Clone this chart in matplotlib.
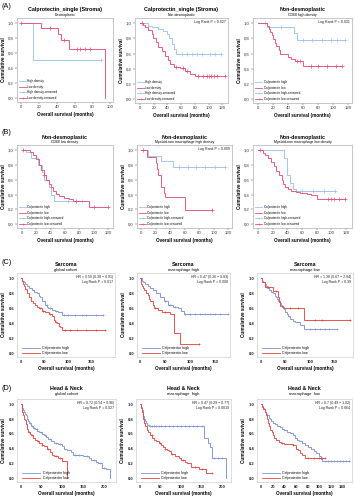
import numpy as np
import matplotlib
matplotlib.use('Agg')
import matplotlib.pyplot as plt
from matplotlib.lines import Line2D
from matplotlib.ticker import FuncFormatter

plt.rcParams['font.family'] = ['Liberation Sans', 'DejaVu Sans']

# ---------------- DATA ----------------
# Panel A1: Desmoplastic
a1_hi_t = [0, 13, 89]; a1_hi_s = [1, 0.51, 0.51]; a1_hi_c = [89]
a1_lo_t = [0, 22, 41, 44, 53, 94]; a1_lo_s = [1, 0.93, 0.85, 0.77, 0.66, 0.0]
a1_lo_c = [0, 32, 48, 62, 66, 71, 77]
# Panel A2: Non-desmoplastic
a2_hi_t = [0, 12, 17, 27, 34, 39, 43, 46, 49, 52, 118]
a2_hi_s = [1, .97, .95, .93, .9, .86, .8, .73, .66, .6, .6]
a2_hi_c = [61, 68, 76, 83, 90, 102, 109, 118]
a2_lo_t = [0, 5, 7, 12, 17, 19, 24, 27, 32, 36, 41, 44, 49, 58, 66, 73, 80, 124]
a2_lo_s = [1, .98, .95, .91, .86, .81, .75, .69, .63, .57, .52, .47, .43, .41, .37, .33, .30, .30]
a2_lo_c = [3, 52, 62, 69, 85, 92, 97, 100, 103, 108, 112, 124]
# Panel A3: CD68 high density
a3_hi_t = [0, 11, 47, 51, 116]; a3_hi_s = [1, .95, .87, .78, .78]
a3_hi_c = [9, 30, 60, 72, 85, 97, 105, 116]
a3_lo_t = [0, 12, 14, 16, 18, 20, 22, 24, 27, 29, 31, 40, 44, 49, 60, 111]
a3_lo_s = [1, .96, .93, .89, .84, .79, .74, .7, .65, .6, .59, .56, .53, .51, .44, .44]
a3_lo_c = [52, 55, 70, 80, 92, 104, 111]
# Panel B1: CD68 low density
b1_hi_t = [0, 5, 12, 23, 28, 31, 38, 41, 45, 84]
b1_hi_s = [1, .97, .9, .8, .7, .6, .5, .4, .31, .31]
b1_hi_c = [64, 84]
b1_lo_t = [0, 11, 15, 20, 24, 27, 30, 34, 37, 40, 43, 47, 52, 59, 66, 71, 94, 120]
b1_lo_s = [1, .97, .93, .88, .8, .73, .67, .6, .55, .5, .45, .41, .38, .36, .34, .32, .24, .24]
b1_lo_c = [2, 30, 75, 100, 120]
# Panel B2: Myeloid-non macrophage high density
b2_hi_t = [0, 10, 28, 44, 116]; b2_hi_s = [1, .92, .85, .77, .77]
b2_hi_c = [52, 65, 76, 88, 102, 116]
b2_lo_t = [0, 8, 20, 22, 24, 27, 28, 31, 33, 60, 97]
b2_lo_s = [1, .91, .83, .75, .66, .58, .5, .42, .37, .19, .19]
b2_lo_c = [3, 97]
# Panel B3: Myeloid-non macrophage low density
b3_hi_t = [0, 35, 40, 43, 47, 52, 105]; b3_hi_s = [1, .89, .67, .56, .47, .45, .45]
b3_hi_c = [60, 75, 90, 105]
b3_lo_t = [0, 7, 10, 14, 18, 22, 25, 28, 32, 34, 37, 41, 45, 52, 57, 66, 72, 80, 118]
b3_lo_s = [1, .96, .93, .89, .84, .78, .72, .67, .6, .55, .5, .47, .45, .43, .42, .41, .40, .34, .34]
b3_lo_c = [3, 95, 100, 103, 110, 118]
# Panel C1: Sarcoma global cohort
c1_hi_t = [0, 3, 6, 10, 13, 18, 23, 28, 34, 38, 41, 46, 52, 56, 59, 66, 72, 80, 87, 176]
c1_hi_s = [1, .97, .95, .92, .9, .87, .85, .82, .8, .77, .75, .7, .65, .62, .6, .58, .57, .55, .51, .51]
c1_hi_c = [55, 62, 75, 92, 100, 115, 130, 140, 160, 176]
c1_lo_t = [0, 2, 4, 6, 9, 13, 17, 21, 26, 30, 34, 38, 45, 52, 60, 66, 70, 74, 77, 81, 84, 87, 180]
c1_lo_s = [1, .96, .93, .9, .86, .8, .75, .7, .67, .65, .62, .6, .57, .55, .52, .5, .45, .42, .4, .37, .35, .31, .31]
c1_lo_c = [40, 48, 63, 75, 95, 105, 120, 140, 160, 180]
# Panel C2: Sarcoma macrophage high
c2_hi_t = [0, 3, 6, 10, 15, 20, 25, 32, 40, 48, 55, 65, 75, 82, 88, 175]
c2_hi_s = [1, .97, .95, .92, .9, .87, .85, .8, .75, .7, .65, .62, .6, .57, .53, .53]
c2_hi_c = [50, 60, 70, 90, 100, 110, 120, 130, 140, 150, 160, 175]
c2_lo_t = [0, 2, 4, 6, 8, 12, 15, 18, 20, 25, 28, 35, 43, 60, 67, 80, 117]
c2_lo_s = [1, .93, .9, .87, .85, .8, .78, .73, .7, .65, .6, .58, .55, .53, .27, .12, .12]
c2_lo_c = [30, 50, 117]
# Panel C3: Sarcoma macrophage low
c3_hi_t = [0, 2, 5, 8, 10, 13, 16, 20, 25, 28, 30, 33, 35, 38, 40, 43, 47, 50, 53, 56, 60, 65, 70, 80, 88, 155]
c3_hi_s = [1, .97, .95, .92, .9, .87, .85, .82, .8, .77, .75, .72, .7, .67, .65, .62, .59, .55, .52, .5, .46, .43, .42, .38, .33, .33]
c3_hi_c = [100, 110, 120, 130, 140, 155]
c3_lo_t = [0, 3, 8, 25, 35, 37, 38, 45, 87, 182]
c3_lo_s = [1, .95, .88, .83, .75, .68, .63, .6, .44, .44]
c3_lo_c = [15, 30, 60, 75, 110, 125, 182]
# Panel D1: Head & Neck global cohort
d1_hi_t = [0, 2, 4, 6, 8, 10, 12, 15, 18, 20, 25, 30, 35, 40, 45, 50, 55, 60, 65, 72, 80, 90, 100, 105,
           110, 120, 125, 150, 165, 170, 180, 185, 195, 205, 215]
d1_hi_s = [1, .97, .95, .92, .9, .87, .85, .8, .77, .75, .7, .68, .66, .64, .62, .6, .58, .56, .53, .5,
           .48, .46, .43, .4, .38, .35, .32, .3, .28, .25, .22, .2, .14, .12, 0]
d1_hi_c = [22, 28, 33, 38, 48, 58, 70, 85, 95, 130, 140, 160, 175, 190, 200]
d1_lo_t = [0, 2, 3, 4, 6, 8, 10, 12, 14, 16, 18, 22, 25, 30, 35, 40, 45, 50, 55, 62, 70, 75, 80, 90, 100, 110]
d1_lo_s = [1, .96, .93, .9, .85, .8, .78, .73, .7, .66, .63, .6, .58, .55, .52, .5, .47, .45, .43, .4,
           .35, .32, .3, .27, .24, 0]
d1_lo_c = [20, 28, 42, 52, 65, 85, 95]
# Panel D2: Head & Neck macrophage high
d2_hi_t = [0, 2, 4, 6, 8, 10, 12, 15, 18, 22, 155, 165, 170, 175, 210]
d2_hi_s = [1, .96, .92, .88, .84, .8, .77, .75, .72, .7, .55, .48, .42, .28, 0]
d2_hi_c = [25, 30, 35, 40, 45, 50, 60, 70, 80, 90, 100, 110, 120, 130, 140, 150, 180, 190, 200]
d2_lo_t = [0, 2, 4, 6, 8, 10, 13, 16, 20, 25, 30, 35, 40, 45, 50, 55, 60, 65, 70, 75, 85, 95, 100,
           110, 115, 125, 145, 160, 175]
d2_lo_s = [1, .95, .9, .85, .8, .75, .7, .65, .62, .58, .55, .52, .5, .47, .45, .42, .4, .38, .37, .33,
           .3, .28, .25, .22, .2, .15, .12, .07, .07]
d2_lo_c = [28, 48, 62, 78, 105, 135, 150, 175]
# Panel D3: Head & Neck macrophage low
d3_hi_t = [0, 1, 3, 5, 7, 9, 11, 13, 15, 17, 20, 24, 28, 32, 36, 40, 45, 50, 55, 58, 62, 65, 70, 75,
           80, 85, 90, 95, 100, 103, 105, 150]
d3_hi_s = [1, .98, .95, .93, .9, .87, .85, .82, .8, .77, .75, .73, .71, .69, .67, .65, .63, .61, .58,
           .55, .52, .5, .47, .45, .42, .4, .37, .34, .3, .26, .23, .23]
d3_hi_c = [110, 115, 120, 125, 130, 135, 140, 145, 150]
d3_lo_t = [0, 2, 4, 6, 8, 10, 12, 14, 16, 18, 20, 23, 26, 30, 35, 40, 50, 55, 60, 63, 67, 70, 75, 110]
d3_lo_s = [1, .96, .93, .9, .85, .8, .75, .7, .65, .62, .58, .55, .52, .49, .47, .46, .46, .45, .4,
           .38, .34, .31, .27, .27]
d3_lo_c = [36, 55, 80, 90, 100, 105, 110]

titles = ["Calprotectin_single (Stroma)", "Calprotectin_single (Stroma)", "Non-desmoplastic",
          "Non-desmoplastic", "Non-desmoplastic", "Non-desmoplastic",
          "Sarcoma", "Sarcoma", "Sarcoma",
          "Head & Neck", "Head & Neck", "Head & Neck"]
subtitles = ["Desmoplastic", "Non-desmoplastic", "CD68 high density",
             "CD68 low density", "Myeloid-non macrophage high density", "Myeloid-non macrophage low density",
             "global cohort", "macrophage high", "macrophage low",
             "global cohort", "macrophage  high", "macrophage  low"]
stats = ["", "Log Rank P = 0.027", "Log Rank P = 0.031",
         "", "Log Rank P = 0.009", "",
         "HR = 0.59 (0.38 \u2212 0.91)\nLog Rank P = 0.017",
         "HR = 0.47 (0.26 \u2212 0.83)\nLog Rank P = 0.008",
         "HR = 1.38 (0.67 \u2212 2.84)\nLog Rank P = 0.39",
         "HR = 0.72 (0.54 \u2212 0.96)\nLog Rank P = 0.027",
         "HR = 0.47 (0.29 \u2212 0.77)\nLog Rank P = 0.0019",
         "HR = 0.7 (0.49 \u2212 1.02)\nLog Rank P = 0.064"]
legend_density = ["High density", "Low density", "High density-censored", "Low density-censored"]
legend_calpro4 = ["Calprotectin high", "Calprotectin low", "Calprotectin high-censored", "Calprotectin low-censored"]
legend_calpro2 = ["Calprotectin high", "Calprotectin low"]
xticks_list = [[0, 20, 40, 60, 80, 100], [0, 20, 40, 60, 80, 100, 120], [0, 20, 40, 60, 80, 100, 120],
               [0, 20, 40, 60, 80, 100, 120], [0, 20, 40, 60, 80, 100, 120], [0, 20, 40, 60, 80, 100, 120],
               [0, 50, 100, 150], [0, 50, 100, 150], [0, 50, 100, 150],
               [0, 50, 100, 150, 200], [0, 50, 100, 150, 200], [0, 20, 40, 60, 80, 100, 120, 140]]
yticks = [0.0, 0.2, 0.4, 0.6, 0.8, 1.0]

# ---------------- LAYOUT ----------------
W, H = 355, 500
fig = plt.figure(figsize=(W / 100, H / 100), dpi=100)
fig.patch.set_facecolor('white')

boxes = [(17, 18, 113, 102), (135, 18, 228, 103), (253, 18, 352, 103),
         (17, 145, 113, 228), (137, 145, 232, 228), (253, 145, 352, 228),
         (17, 273, 115, 357), (137, 273, 230, 357), (257, 273, 353, 357),
         (17, 399, 116, 482), (136, 399, 231, 482), (257, 399, 352, 482)]
xlims = [(-5, 103), (-7, 128), (-7, 125), (-7, 127), (-5.5, 125), (-7, 128),
         (-8, 201), (-6, 180), (-8, 188), (-9, 229), (-10, 222), (-7, 156)]
title_y = [(9, 15), (9, 15), (9, 15), (137, 142), (137, 142), (137, 142),
           (265, 270.5), (265, 270.5), (265, 270.5), (388, 393.5), (388, 393.5), (388, 393.5)]

data = [
    (a1_hi_t, a1_hi_s, a1_hi_c, a1_lo_t, a1_lo_s, a1_lo_c),
    (a2_hi_t, a2_hi_s, a2_hi_c, a2_lo_t, a2_lo_s, a2_lo_c),
    (a3_hi_t, a3_hi_s, a3_hi_c, a3_lo_t, a3_lo_s, a3_lo_c),
    (b1_hi_t, b1_hi_s, b1_hi_c, b1_lo_t, b1_lo_s, b1_lo_c),
    (b2_hi_t, b2_hi_s, b2_hi_c, b2_lo_t, b2_lo_s, b2_lo_c),
    (b3_hi_t, b3_hi_s, b3_hi_c, b3_lo_t, b3_lo_s, b3_lo_c),
    (c1_hi_t, c1_hi_s, c1_hi_c, c1_lo_t, c1_lo_s, c1_lo_c),
    (c2_hi_t, c2_hi_s, c2_hi_c, c2_lo_t, c2_lo_s, c2_lo_c),
    (c3_hi_t, c3_hi_s, c3_hi_c, c3_lo_t, c3_lo_s, c3_lo_c),
    (d1_hi_t, d1_hi_s, d1_hi_c, d1_lo_t, d1_lo_s, d1_lo_c),
    (d2_hi_t, d2_hi_s, d2_hi_c, d2_lo_t, d2_lo_s, d2_lo_c),
    (d3_hi_t, d3_hi_s, d3_hi_c, d3_lo_t, d3_lo_s, d3_lo_c),
]

AB_HI, AB_LO = '#9fc3ec', '#e5507c'
CD_HI, CD_LO = '#7d95d6', '#e34848'


def km(ax, t, s, c, color, lw, ms):
    t = np.asarray(t, float); s = np.asarray(s, float)
    ax.step(t, s, where='post', color=color, lw=lw, solid_joinstyle='miter')
    c = np.asarray(c, float)
    idx = np.clip(np.searchsorted(t, c, side='right') - 1, 0, len(s) - 1)
    ax.plot(c, s[idx], ls='none', marker='+', color=color, ms=ms, mew=0.5)


for i in range(12):
    l, t, r, b = boxes[i]
    ax = fig.add_axes([l / W, 1 - b / H, (r - l) / W, (b - t) / H])
    ab = i < 6
    hi_col, lo_col = (AB_HI, AB_LO) if ab else (CD_HI, CD_LO)
    ht, hs, hc, lt, ls_, lc = data[i]
    ms = 2.6 if ab else 1.8
    km(ax, ht, hs, hc, hi_col, 0.65, ms)
    km(ax, lt, ls_, lc, lo_col, 0.65, ms)
    ax.set_xlim(*xlims[i])
    ax.set_ylim(-0.05, 1.07)
    ax.set_xticks(xticks_list[i])
    ax.set_yticks(yticks)
    if ab:
        ax.yaxis.set_major_formatter(FuncFormatter(lambda v, p: f"{v:.1f}".replace('.', ',')))
        tick_kw = dict(labelsize=3.1, length=1.2, width=0.3, pad=1.2, colors='#333333')
        frame_col = '#b0b0b0'
    else:
        ax.yaxis.set_major_formatter(FuncFormatter(lambda v, p: f"{v:.1f}"))
        tick_kw = dict(labelsize=3.0, length=0, width=0.3, pad=2.0, colors='#222222')
        frame_col = '#cfcfcf'
    ax.tick_params(axis='both', **tick_kw)
    if not ab:
        for lab in ax.get_xticklabels() + ax.get_yticklabels():
            lab.set_fontweight('bold')
    for sp in ax.spines.values():
        sp.set_color(frame_col)
        sp.set_linewidth(0.5)
    ax.set_xlabel("Overall survival (months)", fontsize=3.3, fontweight='bold', labelpad=2.2 if ab else 1.6)
    ax.set_ylabel("Cumulative survival", fontsize=3.3, fontweight='bold', labelpad=1.5)

    cx = (l + r) / 2 / W
    fig.text(cx, 1 - title_y[i][0] / H, titles[i], ha='center', va='center',
             fontsize=3.9 if i < 2 else 3.8, fontweight='bold')
    fig.text(cx, 1 - title_y[i][1] / H, subtitles[i], ha='center', va='center', fontsize=2.5 if ab else 3.0)

    if stats[i]:
        ax.text(0.98, 0.975, stats[i], transform=ax.transAxes, ha='right', va='top',
                fontsize=2.6 if ab else 2.5, linespacing=1.3, color='#222222')

    if ab:
        labels = legend_density if i < 2 else legend_calpro4
        handles = [Line2D([], [], color=hi_col, lw=0.6),
                   Line2D([], [], color=lo_col, lw=0.6),
                   Line2D([], [], color=hi_col, lw=0.6, marker='+', ms=2, mew=0.4),
                   Line2D([], [], color=lo_col, lw=0.6, marker='+', ms=2, mew=0.4)]
        ax.legend(handles, labels, loc='lower left', bbox_to_anchor=(0.02, 0.02), frameon=False,
                  fontsize=2.2, handlelength=2.2, handletextpad=0.5, labelspacing=0.55, borderpad=0.1,
                  borderaxespad=0)
    else:
        handles = [Line2D([], [], color=hi_col, lw=0.6), Line2D([], [], color=lo_col, lw=0.6)]
        ax.legend(handles, legend_calpro2, loc='lower left', bbox_to_anchor=(0.05, 0.02), frameon=False,
                  fontsize=2.6, handlelength=5.0, handletextpad=0.6, labelspacing=0.3, borderpad=0.1,
                  borderaxespad=0)

# panel letters
for letter, y in [("(A)", 7), ("(B)", 133), ("(C)", 262), ("(D)", 389)]:
    fig.text(1 / W, 1 - y / H, letter, ha='left', va='center', fontsize=5.2)

fig.savefig('out.png', dpi=100, facecolor='white')
